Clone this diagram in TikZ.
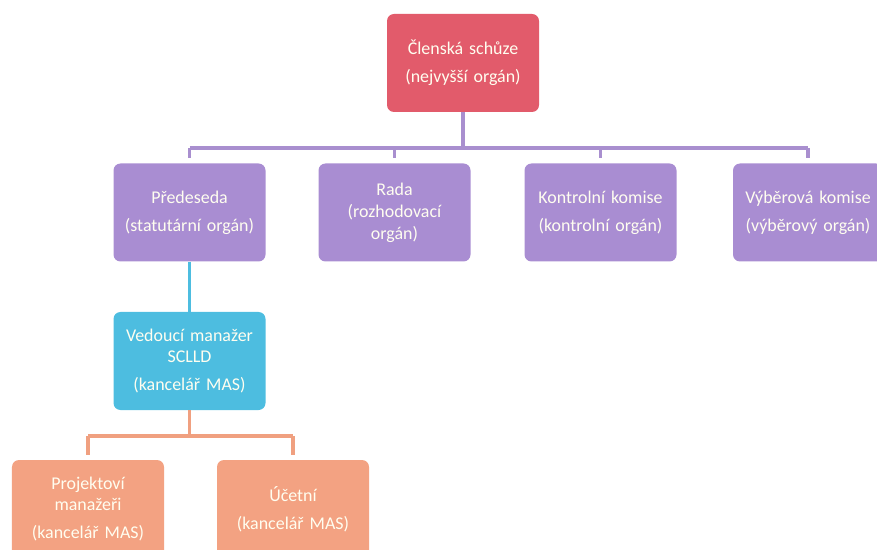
\documentclass[tikz,border=0pt]{standalone}
\usepackage{fontspec}
\setmainfont{Carlito}
\definecolor{cred}{HTML}{E25B6B}
\definecolor{cpurp}{HTML}{A98DD2}
\definecolor{ccyan}{HTML}{4DBDE0}
\definecolor{corange}{HTML}{F3A282}
\definecolor{lpurp}{HTML}{A98FCF}
\definecolor{lorange}{HTML}{F0A080}
\begin{document}
\begin{tikzpicture}[x=1bp,y=1bp,
  box/.style={rounded corners=7bp, minimum width=152bp, minimum height=98bp,
    text width=150bp, align=center, font=\fontsize{18}{22}\selectfont,
    text=white!94!yellow, inner sep=0pt},
  conn/.style={line width=3.5bp}]
\useasboundingbox (0,0) rectangle (877,-550);
\begin{scope}
\clip (0,0) rectangle (877,-550);
\node[box, fill=cred] (top) at (463,-63) {Členská schůze\\[6bp](nejvyšší orgán)};
\node[box, fill=cpurp] (pred) at (189.5,-212.5) {Předeseda\\[6bp](statutární orgán)};
\node[box, fill=cpurp] (rada) at (394.5,-212.5) {Rada\\(rozhodovací\\orgán)};
\node[box, fill=cpurp] (kontr) at (600.5,-212.5) {Kontrolní komise\\[6bp](kontrolní orgán)};
\node[box, fill=cpurp, minimum width=150bp] (vyb) at (808,-212.5) {Výběrová komise\\[6bp](výběrový orgán)};
\node[box, fill=ccyan] (ved) at (189.5,-361) {Vedoucí manažer\\SCLLD\\[6bp](kancelář MAS)};
\node[box, fill=corange] (proj) at (88,-509) {Projektoví\\manažeři\\[6bp](kancelář MAS)};
\node[box, fill=corange] (uct) at (293,-509) {Účetní\\[6bp](kancelář MAS)};
\end{scope}
\coordinate (j1) at (463,-148);
\draw[conn, lpurp] (top.south) -- (j1);
\draw[conn, lpurp] (j1 -| pred.north) -- (j1 -| vyb.north);
\foreach \n in {pred,rada,kontr,vyb}
  \draw[conn, lpurp] (j1 -| \n.north) -- ([yshift=5bp]\n.north);
\draw[conn, ccyan] (pred.south) -- (ved.north);
\coordinate (j2) at (189.5,-436);
\draw[conn, lorange] (ved.south) -- (j2);
\draw[conn, lorange] (j2 -| proj.north) -- (j2 -| uct.north);
\foreach \n in {proj,uct}
  \draw[conn, lorange] (j2 -| \n.north) -- ([yshift=5bp]\n.north);
\end{tikzpicture}
\end{document}
